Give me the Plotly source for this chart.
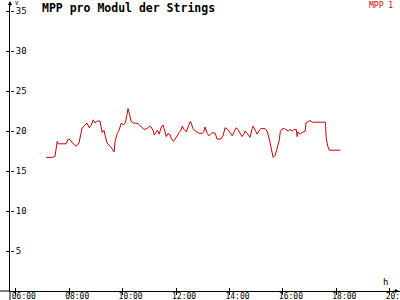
import plotly.graph_objects as go

DAY = "2024-06-01 "
times = ["07:08", "07:22", "07:26", "07:28", "07:33", "07:35", "07:44", "07:53", "07:58", "08:02",
         "08:09", "08:16", "08:22", "08:29", "08:36", "08:40", "08:45", "08:49", "08:54", "08:58",
         "09:03", "09:09", "09:14", "09:18", "09:21", "09:25", "09:32", "09:39", "09:41", "09:43",
         "09:48", "09:52", "09:57", "10:01", "10:06", "10:10", "10:12", "10:15", "10:19", "10:24",
         "10:28", "10:35", "10:42", "10:48", "10:55", "11:00", "11:04", "11:09", "11:11", "11:15",
         "11:18", "11:22", "11:27", "11:31", "11:36", "11:38", "11:42", "11:47", "11:49", "11:54",
         "11:58", "12:02", "12:07", "12:11", "12:14", "12:18", "12:23", "12:27", "12:32", "12:34",
         "12:38", "12:43", "12:47", "12:52", "12:59", "13:03", "13:05", "13:10", "13:14", "13:19",
         "13:23", "13:28", "13:32", "13:41", "13:46", "13:50", "13:55", "13:59", "14:06", "14:10",
         "14:15", "14:19", "14:24", "14:28", "14:33", "14:35", "14:40", "14:44", "14:46", "14:51",
         "14:53", "14:58", "15:02", "15:07", "15:11", "15:20", "15:25", "15:29", "15:31", "15:36",
         "15:38", "15:43", "15:47", "15:52", "15:54", "15:58", "16:03", "16:07", "16:12", "16:16",
         "16:21", "16:25", "16:30", "16:32", "16:34", "16:39", "16:43", "16:50", "16:52", "16:57",
         "17:01", "17:06", "17:35", "17:36", "17:37", "17:40", "17:44", "18:09"]
values = [16.7, 16.7, 16.8, 16.8, 18.7, 18.4, 18.4, 18.4, 19.0, 18.9,
          18.4, 18.1, 18.5, 20.4, 20.75, 21.0, 20.4, 20.7, 21.4, 21.0,
          21.25, 21.25, 19.8, 20.1, 19.4, 18.5, 18.1, 17.6, 17.4, 18.7,
          19.7, 20.1, 21.0, 20.75, 21.0, 22.1, 22.8, 22.2, 21.2, 21.0,
          21.0, 20.9, 20.5, 20.2, 20.3, 20.6, 20.5, 20.0, 19.5, 19.9,
          20.1, 19.6, 20.5, 20.75, 19.9, 19.3, 19.7, 19.5, 19.1, 18.7,
          19.0, 19.4, 19.8, 20.1, 20.6, 20.2, 19.9, 20.5, 21.2, 21.0,
          20.3, 20.0, 19.9, 19.7, 19.7, 20.0, 20.5, 19.7, 19.4, 19.7,
          19.8, 19.7, 19.0, 19.0, 19.5, 20.4, 20.25, 20.0, 19.4, 19.8,
          20.4, 20.2, 19.7, 19.3, 19.7, 20.0, 19.7, 19.3, 19.2, 20.3,
          20.6, 20.1, 19.6, 20.1, 20.3, 20.3, 19.9, 19.1, 18.5, 17.4,
          16.7, 17.0, 17.8, 18.9, 19.9, 20.25, 20.3, 20.2, 20.0, 20.2,
          20.0, 20.2, 20.2, 19.3, 19.9, 19.6, 19.8, 20.0, 21.0, 21.2,
          21.3, 21.1, 21.1, 20.6, 19.3, 18.25, 17.6, 17.6]
y_ticks = [5, 10, 15, 20, 25, 30, 35]
x_ticks = ["06:00", "08:00", "10:00", "12:00", "14:00", "16:00", "18:00", "20:00"]
x_range = ["05:47", "20:23"]
y_range = [0, 36]
title = "MPP pro Modul der Strings"
series_name = "MPP 1"
RED = "#cc0000"
MONO = "DejaVu Sans Mono"

fig = go.Figure()
fig.add_trace(go.Scatter(x=[DAY + t for t in times], y=values, mode="lines",
                         line=dict(color=RED, width=1), name=series_name, showlegend=False))

xt = [DAY + t for t in x_ticks]
common_x = dict(range=[DAY + x_range[0], DAY + x_range[1]], tickvals=xt, showgrid=False,
                zeroline=False, ticklen=3, tickcolor="black", tickwidth=1)
common_y = dict(range=y_range, tickvals=y_ticks, showgrid=False, zeroline=False,
                ticklen=3, tickcolor="black", tickwidth=1)

fig.update_layout(
    width=400, height=300,
    margin=dict(l=10, r=0, t=3, b=9),
    paper_bgcolor="white", plot_bgcolor="white",
    font=dict(family=MONO, size=8, color="black"),
    xaxis=dict(**common_x, type="date", ticks="inside", showline=True, linecolor="black",
               linewidth=1, ticktext=x_ticks, ticklabelshift=8, ticklabeloverflow="allow",
               automargin=False, tickfont=dict(family=MONO, size=8)),
    yaxis=dict(**common_y, ticks="outside", showline=True, linecolor="black", linewidth=1,
               showticklabels=False, automargin=False),
    xaxis2=dict(**common_x, type="date", ticks="outside", overlaying="x", anchor="y",
                showticklabels=False, showline=False),
    yaxis2=dict(**common_y, ticks="outside", overlaying="y", side="right", anchor="free",
                position=0, showticklabels=True, showline=False, automargin=False,
                ticklabeloverflow="allow", tickfont=dict(family=MONO, size=9)),
    annotations=[
        dict(text="<b>" + title + "</b>", xref="paper", yref="paper", x=0.077, y=0.983,
             xanchor="left", yanchor="middle", showarrow=False,
             font=dict(family=MONO, size=11.5, color="black")),
        dict(text=series_name, xref="paper", yref="paper", x=0.987, y=0.99,
             xanchor="right", yanchor="middle", showarrow=False,
             font=dict(family=MONO, size=8, color=RED)),
        dict(text="h", xref="paper", yref="paper", x=0.964, y=0.0, yshift=9,
             xanchor="center", yanchor="middle", showarrow=False,
             font=dict(family=MONO, size=9, color="black")),
        dict(text="V", xref="paper", yref="paper", x=0.0, y=1.0, xshift=3, yshift=1,
             xanchor="left", yanchor="middle", showarrow=False,
             font=dict(family=MONO, size=6, color="black")),
        dict(text="", xref="paper", yref="paper", x=0, y=1.01, ax=0, ay=8,
             showarrow=True, arrowhead=2, arrowsize=0.8, arrowwidth=1, arrowcolor="black"),
        dict(text="", xref="paper", yref="paper", x=1.0, y=0, ax=-8, ay=0,
             showarrow=True, arrowhead=2, arrowsize=0.8, arrowwidth=1, arrowcolor="black"),
    ],
    shapes=[
        dict(type="line", xref="paper", yref="paper", x0=-0.03, x1=0, y0=0, y1=0,
             line=dict(color="black", width=1)),
        dict(type="line", xref="paper", yref="paper", x0=0, x1=0, y0=-0.035, y1=0,
             line=dict(color="black", width=1)),
    ],
)
try:
    fig.update_xaxes(ticklabelstandoff=-3, selector=dict(ticks="inside"))
except ValueError:
    pass

# Helper trace (same last point) so the overlay axes (outer/inner tick halves) are drawn
fig.add_trace(go.Scatter(x=[DAY + times[-1]], y=[values[-1]], xaxis="x2", yaxis="y2",
                         mode="lines", line=dict(color=RED, width=1), showlegend=False,
                         hoverinfo="skip"))

fig.write_html("out.html")
